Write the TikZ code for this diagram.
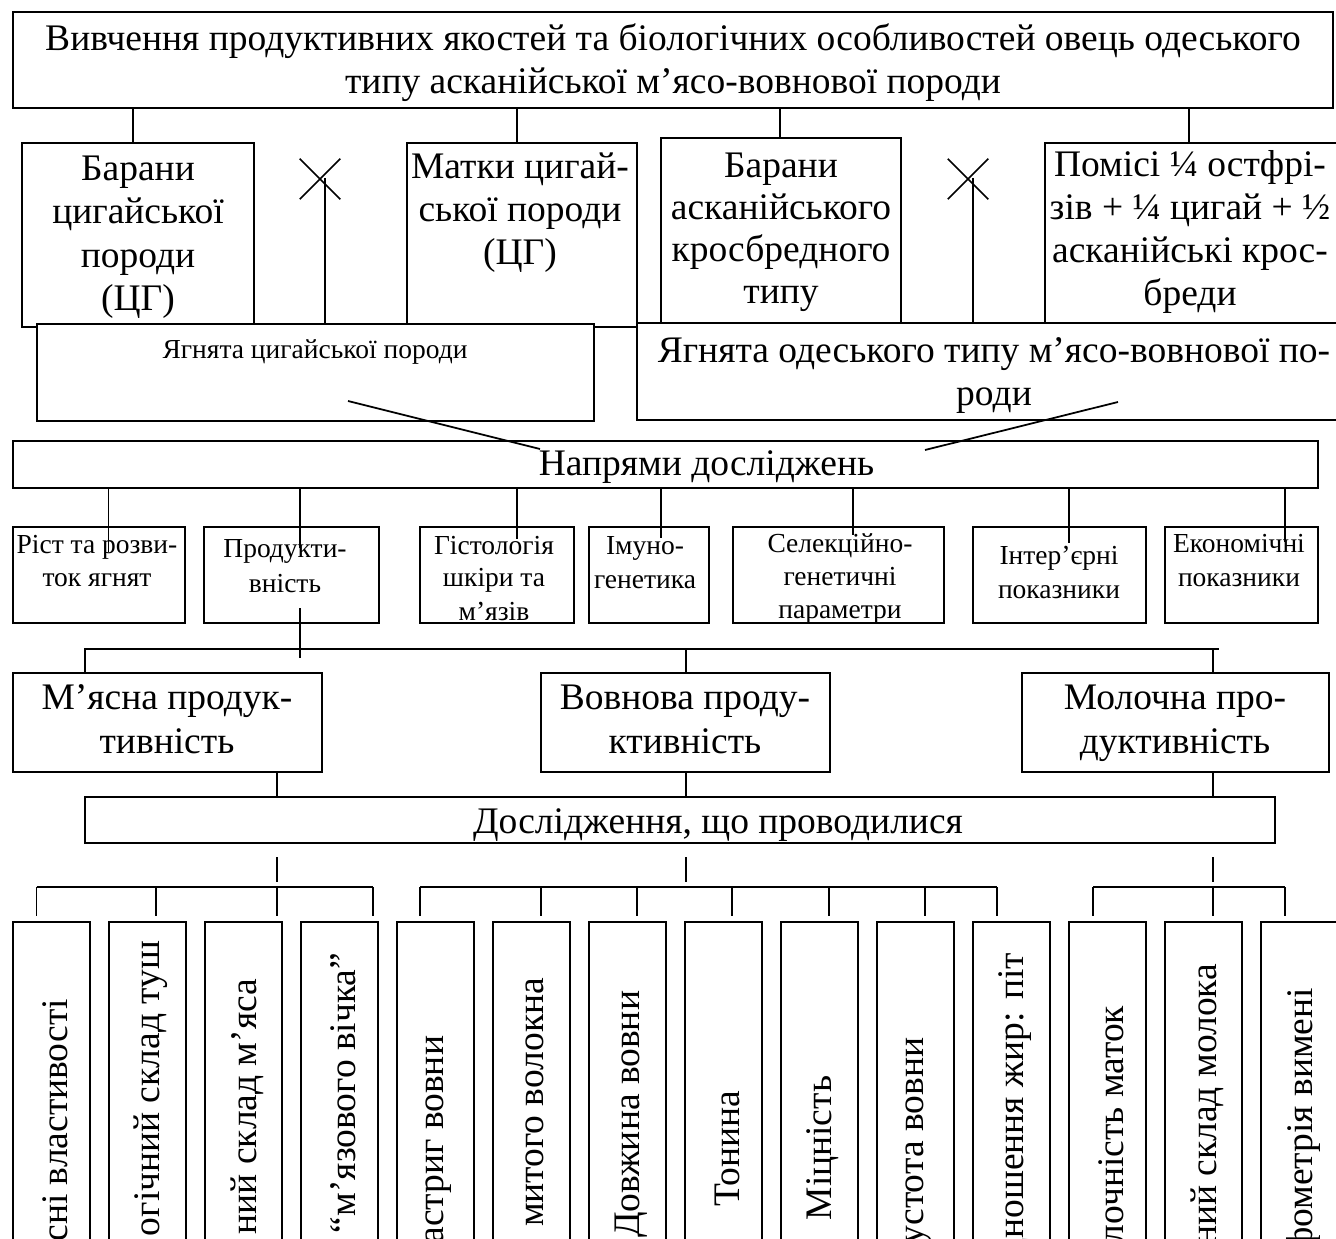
\documentclass[tikz,border=0pt]{standalone}
\usepackage{fontspec}
\setmainfont{Liberation Serif}
\usetikzlibrary{fit,shapes.misc}

\tikzset{
  box/.style={draw, line width=.8pt, fill=white, inner sep=0pt},
  big/.style={align=center, inner sep=0pt, anchor=base, font=\fontsize{15}{17.2}\selectfont},
  small/.style={align=center, inner sep=0pt, anchor=base, font=\fontsize{11}{13.2}\selectfont},
  vert/.style={rotate=90, anchor=east, inner sep=0pt, font=\fontsize{15}{17}\selectfont},
  cross/.style={cross out, draw, line width=.6pt, minimum size=15.6pt, inner sep=0pt},
}

\begin{document}
\begin{tikzpicture}[x=0.4pt, y=-0.4pt, line width=.7pt]
		\clip (0,0) rectangle (1336,1239);
		% title (anchor = baseline of last line)
		\node[box, fit={(13,12) (1333,108)}] (title) {};
		\node[big] (titletext) at (673,94)
		{Вивчення продуктивних якостей та біологічних особливостей овець одеського\\типу асканійської м’ясо-вовнової породи};
		% parents
		\node[box, fit={(22,143) (254,327)}] (ramcg) {};
		\node[big, font=\fontsize{15}{17.4}\selectfont] (ramcgtext) at (138,311) {Барани\\цигайської\\породи\\(ЦГ)};
		\node[box, fit={(407,143) (637,327)}] (ewecg) {};
		\node[big] (ewecgtext) at (520,265) {Матки цигай-\\ської породи\\(ЦГ)};
		\node[box, fit={(661,138) (901,323)}] (ramak) {};
		\node[big, font=\fontsize{15}{16.8}\selectfont] (ramaktext) at (781,304) {Барани\\асканійського\\кросбредного\\типу};
		\node[box, fit={(1045,143) (1360,323)}] (ewemix) {};
		\node[big] (ewemixtext) at (1190,306) {Помісі ¼ остфрі-\\зів + ¼ цигай + ½\\асканійські крос-\\бреди};
		% lambs
		\node[box, fit={(37,324) (594,421)}] (lambcg) {};
		\node[small] (lambcgtext) at (315,359) {Ягнята цигайської породи};
		\node[box, fit={(637,323) (1357,420)}] (lambod) {};
		\node[big, font=\fontsize{15}{17.2}\selectfont] (lambodtext) at (994,406) {Ягнята одеського типу м’ясо-вовнової по-\\роди};
		% crosses
		\node[cross] (xcg) at (320,179) {};
		\node[cross] (xod) at (968,179) {};
		\coordinate (ycg) at (325,178);
		\coordinate (yod) at (973,178);
		\draw (ycg) -- (ycg |- lambcg.north);
		\draw (yod) -- (yod |- lambod.north);
		% links from title
		\draw (title.south -| 133,0) -- (133,0 |- ramcg.north);
		\draw (title.south -| 517,0) -- (517,0 |- ewecg.north);
		\draw (title.south -| 780,0) -- (780,0 |- ramak.north);
		\draw (title.south -| 1189,0) -- (1189,0 |- ewemix.north);
		% directions
		\node[box, fit={(12.5,441) (1318,488)}] (napr) {};
		\node[big, anchor=base west] (naprtext) at (538,476) {Напрями досліджень};
		\coordinate (da) at (348,401);
		\coordinate (db) at (540,449);
		\coordinate (dc) at (1118,402);
		\coordinate (dd) at (925,450);
		\draw (da) -- (db);
		\draw (dc) -- (dd);
		% research directions
		\node[box, fit={(12.5,527) (185,623)}] (grow) {};
		\node[small] (growtext) at (97,587) {Ріст та розви-\\ток ягнят};
		\node[box, fit={(204,527) (379,623)}] (prod) {};
		\node[small, font=\fontsize{11}{14}\selectfont] (prodtext) at (285,593) {Продукти-\\вність};
		\node[box, fit={(420,527) (574,623)}] (hist) {};
		\node[small] (histtext) at (494,620) {Гістологія\\шкіри та\\м’язів};
		\node[box, fit={(589,527) (709,623)}] (immu) {};
		\node[small] (immutext) at (645,588) {Імуно-\\генетика};
		\node[box, fit={(733,527) (944,623)}] (selg) {};
		\node[small] (selgtext) at (840,619) {Селекційно-\\генетичні\\параметри};
		\node[box, fit={(973,527) (1146,623)}] (intr) {};
		\node[small] (intrtext) at (1059,598) {Інтер’єрні\\показники};
		\node[box, fit={(1165,527) (1318,623)}] (econ) {};
		\node[small] (econtext) at (1239,586) {Економічні\\показники};
		\foreach \x/\y in {108.5/552, 300/548, 517/539, 661/538, 853/535, 1069/543, 1285/542}
			\draw (napr.south -| \x,0) -- (\x,\y);
		% productivity
		\node[box, fit={(12.8,673) (322,772)}] (meat) {};
		\node[big] (meattext) at (167,753) {М’ясна продук-\\тивність};
		\node[box, fit={(541,673) (830,772)}] (wool) {};
		\node[big] (wooltext) at (685,753) {Вовнова проду-\\ктивність};
		\node[box, fit={(1022,673) (1329,772)}] (milk) {};
		\node[big] (milktext) at (1175,753) {Молочна про-\\дуктивність};
		\draw (300,608) -- (300,658);
		\draw (meat.north -| 85,0) -- (85,649) -- (1219,649);
		\draw (686,649) -- (686,0 |- wool.north);
		\draw (1213,649) -- (1213,0 |- milk.north);
		% studies
		\node[box, fit={(85,797) (1275,843)}] (stud) {};
		\node[big] (studtext) at (718,833) {Дослідження, що проводилися};
		\foreach \x in {277,686,1213} {
			\draw (\x,0 |- meat.south) -- (\x,0 |- stud.north);
			\draw (\x,857) -- (\x,882);
		}
		% brackets
		\draw (36.6,887) -- (373,887);
		\draw (420,887) -- (997,887);
		\draw (1093,887) -- (1285,887);
		\foreach \x in {36.6,156,277,373,420,541,637,732,829,925,997,1093,1213,1285}
			\draw (\x,887) -- (\x,916);
		% measured traits
		\foreach \i/\ty/\tx in {0/998/{сні властивості}, 1/940/{огічний склад туш},
			2/978/{ний склад м’яса}, 3/952/{“м’язового вічка”}, 4/1035/{астриг вовни},
			5/977/{митого волокна}, 6/990/{Довжина вовни}, 7/1090/{Тонина},
			8/1075/{Міцність}, 9/1037/{устота вовни}, 10/952/{дношення жир: піт},
			11/1005/{лочність маток}, 12/963/{ний склад молока}, 13/987/{фометрія вимені}} {
			\node[box, fit={(12.5+96*\i,922) (89.5+96*\i,1320)}] (trait\i) {};
			\node[vert] (trait\i text) at (55+96*\i,\ty) {\tx};
		}
	\end{tikzpicture}
\end{document}
